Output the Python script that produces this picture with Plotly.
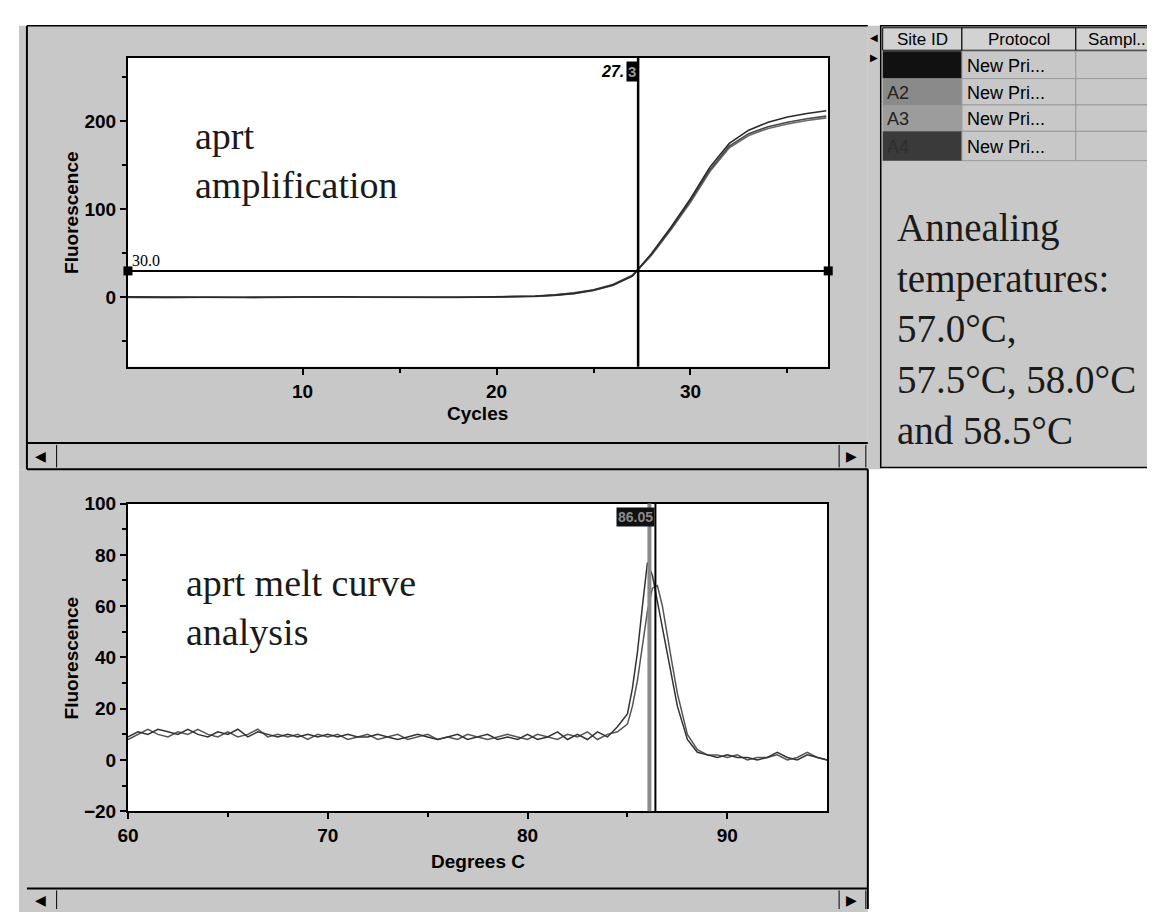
import plotly.graph_objects as go

# ---------------- data ----------------
cycles = list(range(1, 38))
amp_a = [0.5, 0.3, 0.2, 0.4, 0.1, 0.0, -0.2, 0.0, 0.3, 0.8, 1.0, 0.6, 0.4, 0.2, 0.0, -0.2, -0.1, 0.0, 0.2,
         0.3, 0.6, 1.2, 2.5, 4.5, 8, 14, 24, 50, 80, 112, 148, 175, 190, 199, 205, 209, 212]
amp_b = [0.0, -0.3, -0.2, 0.1, 0.3, 0.2, 0.0, -0.1, 0.2, 0.5, 0.7, 0.4, 0.1, 0.0, -0.3, -0.1, 0.0, 0.1, 0.0,
         0.4, 0.8, 1.5, 2.8, 5, 8.5, 14.5, 25, 49, 78, 110, 145, 172, 186, 194, 199, 203, 206]
amp_c = [-0.3, -0.5, -0.4, -0.2, 0.0, -0.1, -0.3, -0.2, 0.0, 0.3, 0.5, 0.2, 0.0, -0.2, -0.4, -0.3, -0.2, -0.1, 0.1,
         0.2, 0.5, 1.0, 2.2, 4.2, 7.8, 13.5, 24, 48, 77, 108, 143, 170, 184, 192, 197, 201, 204]
threshold = 30.0
ct_cycle = 27.3

temps = [60, 60.5, 61, 61.5, 62, 62.5, 63, 63.5, 64, 64.5, 65, 65.5, 66, 66.5, 67, 67.5, 68, 68.5, 69, 69.5,
         70, 70.5, 71, 71.5, 72, 72.5, 73, 73.5, 74, 74.5, 75, 75.5, 76, 76.5, 77, 77.5, 78, 78.5, 79, 79.5,
         80, 80.5, 81, 81.5, 82, 82.5, 83, 83.5, 84, 84.5,
         85, 85.25, 85.5, 85.75, 86, 86.25, 86.5, 86.75, 87, 87.25, 87.5,
         88, 88.5, 89, 89.5, 90, 90.5, 91, 91.5, 92, 92.5, 93, 93.5, 94, 94.5, 95]
melt_1 = [9, 11, 10, 12, 11, 10, 12, 10, 9, 11,
          10, 12, 9, 11, 10, 9, 10, 9, 10, 9,
          10, 9, 10, 9, 9, 10, 9, 8, 9, 10,
          9, 8, 9, 10, 8, 9, 10, 8, 9, 8,
          10, 8, 9, 11, 8, 10, 8, 11, 9, 13,
          18, 28, 42, 60, 77, 72, 62, 52, 42, 31, 21,
          8, 3, 2, 1, 2, 1, 1, 0, 1, 3, 1, 0, 2, 1, 0]
melt_2 = [8, 10, 12, 10, 9, 11, 10, 12, 10, 9,
          11, 9, 10, 12, 9, 10, 9, 10, 8, 10,
          9, 10, 8, 9, 10, 8, 9, 10, 8, 9,
          10, 8, 9, 8, 10, 9, 8, 9, 10, 9,
          8, 10, 9, 8, 10, 9, 11, 8, 10, 11,
          14, 21, 31, 44, 58, 67, 68, 60, 48, 37, 26,
          10, 4, 2, 2, 1, 2, 0, 1, 1, 2, 0, 1, 3, 1, 0]
melt_tm = 86.4
melt_tm_b = 86.1

site_ids = ["", "A2", "A3", "A4"]
site_colors = ["#111111", "#8a8a8a", "#9c9c9c", "#3a3a3a"]
protocols = ["New Pri...", "New Pri...", "New Pri...", "New Pri..."]
headers = ["Site ID", "Protocol", "Sampl..."]

# ---------------- layout helpers ----------------
W, H = 1155, 912
GRAY = "#c8c8c8"
TOP_PLOT = (110, 41, 817, 357)     # x0, y0, x1, y1 in pixels
BOT_PLOT = (110, 497, 816, 812)


def X(p):
    return p / W


def Y(p):
    return 1 - p / H


shapes = []
annotations = []


def rect(x0, y0, x1, y1, fill=GRAY, line="black", lw=1, layer="below"):
    shapes.append(dict(type="rect", xref="paper", yref="paper", x0=X(x0), x1=X(x1), y0=Y(y1), y1=Y(y0),
                       fillcolor=fill, line=dict(color=line, width=lw), layer=layer))


def hline(x0, x1, y, color="black", lw=1):
    shapes.append(dict(type="line", xref="paper", yref="paper", x0=X(x0), x1=X(x1), y0=Y(y), y1=Y(y),
                       line=dict(color=color, width=lw), layer="below"))


def vline(x, y0, y1, color="black", lw=1):
    shapes.append(dict(type="line", xref="paper", yref="paper", x0=X(x), x1=X(x), y0=Y(y0), y1=Y(y1),
                       line=dict(color=color, width=lw), layer="below"))


def text(x, y, s, size=16, family="Liberation Sans, Arial", color="black", xa="left", ya="middle",
         weight="normal", angle=0):
    annotations.append(dict(xref="paper", yref="paper", x=X(x), y=Y(y), text=s, showarrow=False,
                            xanchor=xa, yanchor=ya, align="left", textangle=angle,
                            font=dict(size=size, family=family, color=color, weight=weight)))


# panels
rect(0, 8, 857, 462, lw=0, line=GRAY)
hline(8, 857, 8, lw=1.5)
vline(8, 8, 912, lw=2)
rect(857, 8, 870, 462, lw=0, line=GRAY)
rect(870, 8, 1160, 460, lw=1.5)
rect(0, 462, 857, 915, lw=0, line=GRAY)
vline(857, 462, 912, lw=2)
# plot backgrounds
rect(*TOP_PLOT, fill="white", lw=0, line="white")
rect(*BOT_PLOT, fill="white", lw=0, line="white")
# scrollbars
hline(8, 857, 435, lw=2)
hline(8, 857, 462, lw=2)
vline(38, 437, 460, lw=1)
vline(828, 437, 460, lw=1)
vline(855, 437, 460, lw=1)
text(22, 448, "◀", size=14, xa="center")
text(841, 448, "▶", size=14, xa="center")
hline(8, 857, 891, lw=2)
vline(38, 893, 912, lw=1)
vline(828, 893, 912, lw=1)
vline(855, 893, 912, lw=1)
text(22, 903, "◀", size=14, xa="center")
text(841, 903, "▶", size=14, xa="center")
text(863, 20, "◀", size=10, xa="center")
text(863, 40, "▶", size=10, xa="center")

# table
col_edges = [872, 952, 1067, 1155]
for i, h in enumerate(headers):
    rect(col_edges[i], 10, col_edges[i + 1], 33, fill="#d2d2d2", lw=1)
    text((col_edges[i] + col_edges[i + 1]) / 2, 22, h, size=17, xa="center")
row_edges = [34, 62, 89, 116, 146]
for r in range(4):
    rect(872, row_edges[r], 952, row_edges[r + 1], fill=site_colors[r], lw=0, line=site_colors[r])
    rect(952, row_edges[r], 1067, row_edges[r + 1], fill=GRAY, lw=1, line="#9a9a9a")
    rect(1067, row_edges[r], 1155, row_edges[r + 1], fill=GRAY, lw=1, line="#9a9a9a")
    text(874, (row_edges[r] + row_edges[r + 1]) / 2 + 1, site_ids[r], size=18,
         color="#222222" if r < 3 else "#2e2e2e")
    text(955, (row_edges[r] + row_edges[r + 1]) / 2 + 1, protocols[r], size=18)

SERIF = "Liberation Serif, Times New Roman, serif"
text(884, 190, "Annealing<br>temperatures:<br>57.0°C,<br>57.5°C, 58.0°C<br>and 58.5°C",
     size=39, family=SERIF, ya="top", color="#1a1a1a")
text(176, 97, "aprt<br>amplification", size=38, family=SERIF, ya="top", color="#1a1a1a")
text(167, 555, "aprt melt curve<br>analysis", size=38, family=SERIF, ya="top", color="#1a1a1a")

# axis titles
text(53, 199, "Fluorescence", size=19, xa="center", weight="bold", angle=-90)
text(463, 405, "Cycles", size=19, xa="center", weight="bold")
text(53, 655, "Fluorescence", size=19, xa="center", weight="bold", angle=-90)
text(463, 863, "Degrees C", size=19, xa="center", weight="bold")

# ---------------- figure ----------------
fig = go.Figure()
for vals, col in [(amp_c, "#6a6a6a"), (amp_b, "#4a4a4a"), (amp_a, "#2a2a2a")]:
    fig.add_trace(go.Scatter(x=cycles, y=vals, mode="lines", line=dict(color=col, width=1.6),
                             xaxis="x", yaxis="y", showlegend=False))
xr_top = [1, 37.1]
fig.add_trace(go.Scatter(x=xr_top, y=[threshold, threshold], mode="lines+markers",
                         line=dict(color="black", width=2), marker=dict(symbol="square", size=9, color="black"),
                         xaxis="x", yaxis="y", showlegend=False, cliponaxis=False))
for vals, col in [(melt_2, "#555555"), (melt_1, "#333333")]:
    fig.add_trace(go.Scatter(x=temps, y=vals, mode="lines", line=dict(color=col, width=1.5),
                             xaxis="x2", yaxis="y2", showlegend=False))

# vertical cursor lines and labels
shapes.append(dict(type="line", xref="x", yref="y domain", x0=ct_cycle, x1=ct_cycle, y0=0, y1=1,
                   line=dict(color="black", width=2.5)))
annotations.append(dict(xref="x", yref="y domain", x=ct_cycle, y=0.955, text="3", showarrow=False,
                        xanchor="right", yanchor="middle", bgcolor="black", borderpad=1,
                        font=dict(size=15, family="Liberation Sans, Arial", color="#9a9a9a", weight="bold")))
annotations.append(dict(xref="x", yref="y domain", x=ct_cycle - 0.62, y=0.955, text="<i>27.</i>",
                        showarrow=False, xanchor="right", yanchor="middle",
                        font=dict(size=16, family="Liberation Sans, Arial", color="black", weight="bold")))
annotations.append(dict(xref="x", yref="y", x=1.1, y=threshold, text="30.0", showarrow=False,
                        xanchor="left", yanchor="bottom",
                        font=dict(size=16, family="Liberation Serif, serif", color="black")))
shapes.append(dict(type="line", xref="x2", yref="y2 domain", x0=melt_tm_b, x1=melt_tm_b, y0=0, y1=1,
                   line=dict(color="#8a8a8a", width=4)))
shapes.append(dict(type="line", xref="x2", yref="y2 domain", x0=melt_tm, x1=melt_tm, y0=0, y1=1,
                   line=dict(color="black", width=2)))
annotations.append(dict(xref="x2", yref="y2 domain", x=melt_tm, y=0.955, text="86.05", showarrow=False,
                        xanchor="right", yanchor="middle", bgcolor="#111111",
                        font=dict(size=14, family="Liberation Sans, Arial", color="#8a8a8a", weight="bold")))

axis_common = dict(showline=True, linecolor="black", linewidth=2, mirror=True, ticks="outside",
                   ticklen=6, tickwidth=2, tickcolor="black", showgrid=False, zeroline=False,
                   tickfont=dict(size=19, family="Liberation Sans, Arial", color="black", weight="bold"))
minor_common = dict(ticks="outside", ticklen=4, tickwidth=2, tickcolor="black")

fig.update_layout(
    width=W, height=H, margin=dict(l=0, r=0, t=0, b=0),
    paper_bgcolor="white", plot_bgcolor="white",
    xaxis=dict(domain=[X(TOP_PLOT[0]), X(TOP_PLOT[2])], range=xr_top, anchor="y", tickvals=[10, 20, 30],
               minor=dict(tickvals=[15, 25, 35], **minor_common), **axis_common),
    yaxis=dict(domain=[Y(TOP_PLOT[3]), Y(TOP_PLOT[1])], range=[-79, 272], anchor="x", tickvals=[0, 100, 200],
               minor=dict(tickvals=[-50, 50, 150, 250], **minor_common), **axis_common),
    xaxis2=dict(domain=[X(BOT_PLOT[0]), X(BOT_PLOT[2])], range=[60, 95], anchor="y2",
                tickvals=[60, 70, 80, 90], minor=dict(tickvals=[65, 75, 85], **minor_common), **axis_common),
    yaxis2=dict(domain=[Y(BOT_PLOT[3]), Y(BOT_PLOT[1])], range=[-20, 100], anchor="x2",
                tickvals=[-20, 0, 20, 40, 60, 80, 100],
                minor=dict(tickvals=[-10, 10, 30, 50, 70, 90], **minor_common), **axis_common),
    shapes=shapes, annotations=annotations,
)

fig.write_html("out.html")
